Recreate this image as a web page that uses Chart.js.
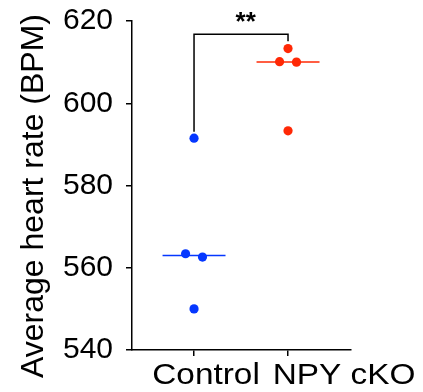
<!DOCTYPE html>
<html>
<head>
<meta charset="utf-8">
<script src="https://cdn.jsdelivr.net/npm/chart.js@4"></script>
<style>
  html, body { margin: 0; padding: 0; background: #ffffff; }
  canvas { display: block; }
</style>
</head>
<body>
<canvas id="c" width="423" height="392"></canvas>
<script>
// ---- data ----
const categories = ['Control', 'NPY cKO'];
const controlValues = [591.5, 563.4, 562.6, 550.0];
const npyValues = [613.3, 610.1, 610.0, 593.3];
const controlJitter = [0, -0.09, 0.09, 0];
const npyJitter = [0, -0.09, 0.09, 0];
const yTicks = [540, 560, 580, 600, 620];
const bracketY = [593.1, 616.8, 615.1]; // left leg end, top, right leg end
const significance = '**';
const yTitle = 'Average heart rate (BPM)';

// ---- styles ----
const FONT = "'Liberation Sans', Arial, Helvetica, sans-serif";
const BLUE = 'rgb(5, 55, 255)';
const RED = 'rgb(255, 40, 5)';
const MEDIAN_HALF = 0.335;
const X_LABEL_SHIFT = [12, 56];   // px shift of category labels (as in the original figure)
const X_LABEL_STRETCH = 1.15;

function median(a) {
  const s = a.slice().sort((p, q) => p - q);
  const m = Math.floor(s.length / 2);
  return s.length % 2 ? s[m] : (s[m - 1] + s[m]) / 2;
}

const ctrlPts = controlValues.map((v, i) => ({ x: 0 + controlJitter[i], y: v }));
const npyPts = npyValues.map((v, i) => ({ x: 1 + npyJitter[i], y: v }));
const ctrlMed = median(controlValues);
const npyMed = median(npyValues);

const overlay = {
  id: 'overlay',
  afterDraw(chart) {
    const { ctx, scales: { x, y } } = chart;
    ctx.save();
    ctx.fillStyle = '#000';
    // significance stars
    ctx.font = 'bold 26px ' + FONT;
    ctx.textAlign = 'center';
    ctx.textBaseline = 'alphabetic';
    ctx.fillText(significance, x.getPixelForValue(0.55), y.getPixelForValue(bracketY[1]) - 4);
    // category labels
    ctx.font = '29px ' + FONT;
    categories.forEach((c, i) => {
      ctx.save();
      ctx.translate(x.getPixelForValue(i) + X_LABEL_SHIFT[i], x.top + 34);
      ctx.scale(X_LABEL_STRETCH, 1);
      ctx.fillText(c, 0, 0);
      ctx.restore();
    });
    // y-axis title
    ctx.font = '32px ' + FONT;
    ctx.textBaseline = 'middle';
    ctx.translate(34, 196);
    ctx.rotate(-Math.PI / 2);
    ctx.fillText(yTitle, 0, 0);
    ctx.restore();
  }
};

new Chart(document.getElementById('c'), {
  type: 'scatter',
  data: {
    datasets: [
      { data: ctrlPts, backgroundColor: BLUE, borderColor: BLUE, pointRadius: 4.6, pointBorderWidth: 0, showLine: false },
      { data: npyPts, backgroundColor: RED, borderColor: RED, pointRadius: 4.6, pointBorderWidth: 0, showLine: false },
      { type: 'line', data: [{ x: -MEDIAN_HALF, y: ctrlMed }, { x: MEDIAN_HALF, y: ctrlMed }], borderColor: BLUE, borderWidth: 1.5, pointRadius: 0 },
      { type: 'line', data: [{ x: 1 - MEDIAN_HALF, y: npyMed }, { x: 1 + MEDIAN_HALF, y: npyMed }], borderColor: RED, borderWidth: 1.5, pointRadius: 0 },
      { type: 'line', data: [{ x: 0, y: bracketY[0] }, { x: 0, y: bracketY[1] }, { x: 1, y: bracketY[1] }, { x: 1, y: bracketY[2] }],
        borderColor: '#000', borderWidth: 1.5, pointRadius: 0, tension: 0 }
    ]
  },
  options: {
    responsive: false,
    animation: false,
    devicePixelRatio: 1,
    layout: { padding: { top: 21, right: 72, left: 0, bottom: 0 } },
    plugins: { legend: { display: false }, tooltip: { enabled: false } },
    scales: {
      x: {
        type: 'linear',
        min: -0.66,
        max: 1.67,
        afterBuildTicks(scale) { scale.ticks = categories.map((c, i) => ({ value: i })); },
        afterFit(scale) { scale.height = 42; scale.paddingLeft = 0; scale.paddingRight = 0; },
        ticks: {
          display: false,
          callback: (v) => categories[v] ?? '',
          autoSkip: false
        },
        grid: { drawOnChartArea: false, drawTicks: true, tickLength: 6, color: '#000', lineWidth: 1.5 },
        border: { display: true, color: '#000', width: 1.5 }
      },
      y: {
        min: 540,
        max: 620,
        afterBuildTicks(scale) { scale.ticks = yTicks.map(v => ({ value: v })); },
        afterFit(scale) { scale.width = 132; scale.paddingTop = 0; scale.paddingBottom = 0; },
        ticks: {
          color: '#000',
          font: { family: FONT, size: 30 },
          padding: 13
        },
        grid: { drawOnChartArea: false, drawTicks: true, tickLength: 6, color: '#000', lineWidth: 1.5 },
        border: { display: true, color: '#000', width: 1.5 }
      }
    }
  },
  plugins: [overlay]
});
</script>
</body>
</html>
